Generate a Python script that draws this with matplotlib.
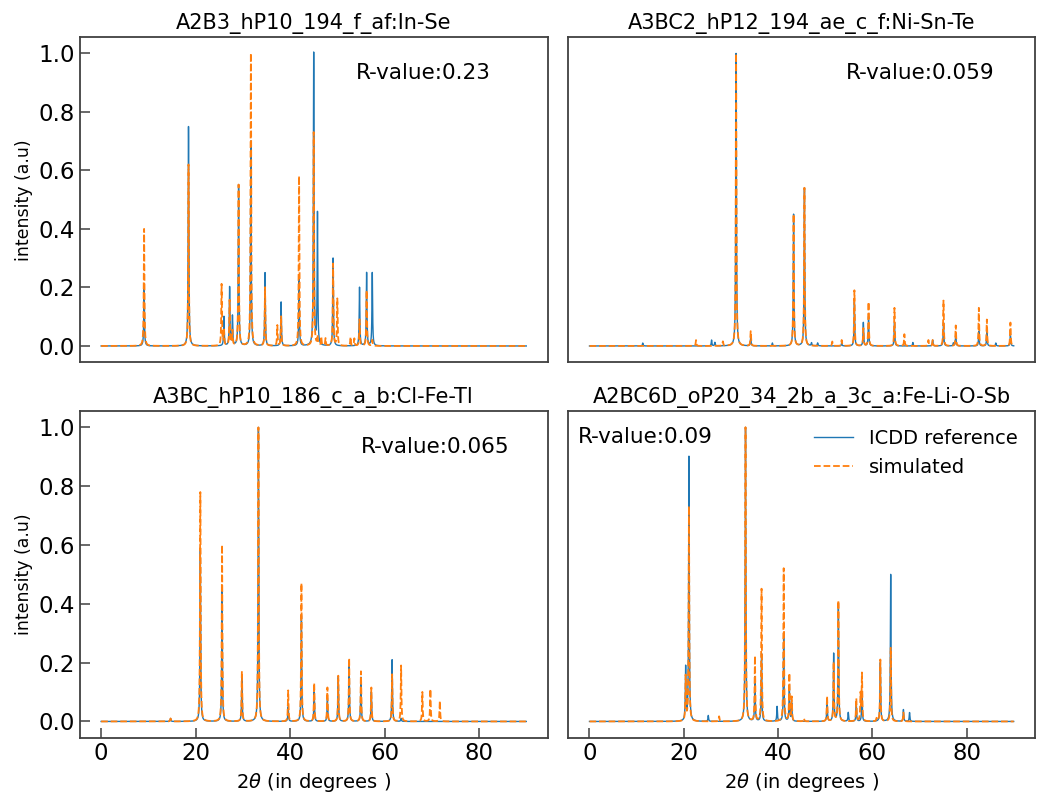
import numpy as np
import matplotlib
matplotlib.use("Agg")
import matplotlib.pyplot as plt

# peak lists read from the patterns: position (2theta), ICDD height, simulated height
titles = [
    "A2B3_hP10_194_f_af:In-Se",
    "A3BC2_hP12_194_ae_c_f:Ni-Sn-Te",
    "A3BC_hP10_186_c_a_b:Cl-Fe-Tl",
    "A2BC6D_oP20_34_2b_a_3c_a:Fe-Li-O-Sb",
]
r_values = ["0.23", "0.059", "0.065", "0.09"]

pos_inse = [9.1, 18.5, 25.5, 26.0, 27.2, 27.8, 29.1, 31.7, 34.7, 37.3, 38.1, 41.9,
            45.0, 45.8, 46.6, 47.5, 49.1, 50.0, 52.8, 53.6, 54.7, 56.2, 57.4]
icdd_inse = [0.20, 0.75, 0.0, 0.10, 0.20, 0.10, 0.55, 0.70, 0.25, 0.0, 0.15, 0.24,
             1.00, 0.45, 0.0, 0.0, 0.30, 0.0, 0.0, 0.0, 0.20, 0.25, 0.25]
sim_inse = [0.40, 0.62, 0.21, 0.05, 0.155, 0.05, 0.55, 1.00, 0.20, 0.07, 0.10, 0.58,
            0.73, 0.03, 0.03, 0.025, 0.28, 0.16, 0.03, 0.025, 0.09, 0.19, 0.02]

pos_nisnte = [11.3, 22.6, 25.9, 26.6, 28.3, 31.1, 34.2, 38.8, 43.3, 45.6, 47.1, 48.4,
              51.5, 53.5, 56.2, 58.1, 59.2, 64.7, 66.8, 68.6, 71.9, 72.8, 75.1, 77.2,
              77.7, 82.6, 84.3, 86.2, 89.3]
icdd_nisnte = [0.01, 0.0, 0.02, 0.012, 0.0, 1.00, 0.03, 0.01, 0.45, 0.54, 0.01, 0.01,
               0.0, 0.01, 0.15, 0.08, 0.10, 0.08, 0.0, 0.012, 0.0, 0.02, 0.08, 0.01,
               0.04, 0.05, 0.05, 0.01, 0.04]
sim_nisnte = [0.0, 0.02, 0.0, 0.0, 0.015, 1.00, 0.05, 0.0, 0.45, 0.54, 0.0, 0.0,
              0.015, 0.02, 0.19, 0.06, 0.15, 0.13, 0.04, 0.0, 0.02, 0.02, 0.155, 0.0,
              0.07, 0.13, 0.09, 0.0, 0.08]

pos_clfetl = [14.7, 21.0, 25.6, 29.8, 33.3, 39.6, 42.4, 45.1, 47.9, 50.2, 52.5, 55.0,
              57.2, 61.6, 63.5, 68.0, 69.7, 71.7]
icdd_clfetl = [0.01, 0.58, 0.45, 0.15, 1.00, 0.05, 0.36, 0.10, 0.08, 0.15, 0.20, 0.15,
               0.10, 0.21, 0.01, 0.0, 0.0, 0.0]
sim_clfetl = [0.01, 0.78, 0.60, 0.17, 1.00, 0.105, 0.47, 0.13, 0.115, 0.155, 0.215, 0.17,
              0.115, 0.16, 0.19, 0.10, 0.11, 0.07]

pos_felios = [20.4, 21.1, 25.2, 27.5, 33.1, 35.1, 36.5, 39.8, 41.2, 42.4, 42.9, 45.5,
              50.4, 51.8, 52.8, 54.9, 56.6, 57.5, 57.8, 60.9, 61.7, 63.9, 66.6, 67.9]
icdd_felios = [0.18, 0.90, 0.02, 0.0, 1.00, 0.15, 0.23, 0.05, 0.30, 0.12, 0.06, 0.0,
               0.07, 0.23, 0.40, 0.03, 0.06, 0.0, 0.10, 0.0, 0.20, 0.50, 0.04, 0.03]
sim_felios = [0.15, 0.73, 0.0, 0.017, 1.00, 0.22, 0.45, 0.0, 0.52, 0.16, 0.08, 0.01,
              0.085, 0.20, 0.41, 0.0, 0.077, 0.09, 0.16, 0.01, 0.21, 0.25, 0.03, 0.0]

peaks = [
    (pos_inse, icdd_inse, sim_inse),
    (pos_nisnte, icdd_nisnte, sim_nisnte),
    (pos_clfetl, icdd_clfetl, sim_clfetl),
    (pos_felios, icdd_felios, sim_felios),
]

two_theta = np.linspace(0, 90, 9001)


# Lorentzian broadening of a stick pattern
def broaden(positions, heights, hwhm=0.08):
    y = np.zeros_like(two_theta)
    for p, h in zip(positions, heights):
        y += h / (1 + ((two_theta - p) / hwhm) ** 2)
    return y


fig = plt.figure(figsize=(10.37, 7.94), dpi=100)
boxes = [
    [0.077, 0.544, 0.451, 0.409],
    [0.548, 0.544, 0.450, 0.409],
    [0.077, 0.071, 0.451, 0.411],
    [0.548, 0.071, 0.450, 0.411],
]
text_pos = [(0.59, 0.89), (0.595, 0.89), (0.60, 0.89), (0.02, 0.92)]

for i in range(4):
    ax = fig.add_axes(boxes[i])
    pos, icdd, sim = peaks[i]
    ax.plot(two_theta, broaden(pos, icdd), color="tab:blue", lw=1.0, label="ICDD reference")
    ax.plot(two_theta, broaden(pos, sim), color="tab:orange", lw=1.3, ls="--", label="simulated")
    ax.set_title(titles[i], fontsize=15)
    ax.set_ylim(-0.055, 1.055)
    ax.set_xticks([0, 20, 40, 60, 80])
    ax.set_yticks([0.0, 0.2, 0.4, 0.6, 0.8, 1.0])
    ax.tick_params(direction="in", length=7, width=1.1, labelsize=16.5, color="0.25")
    for s in ax.spines.values():
        s.set_color("0.25")
        s.set_linewidth(1.3)
    ax.text(text_pos[i][0], text_pos[i][1], "R-value:" + r_values[i],
            transform=ax.transAxes, fontsize=15.5, va="center")
    if i < 2:
        ax.tick_params(bottom=False, labelbottom=False)
    else:
        ax.set_xlabel(r"2$\theta$ (in degrees )", fontsize=14)
    if i % 2 == 1:
        ax.tick_params(left=False, labelleft=False)
    else:
        ax.set_ylabel("intensity (a.u)", fontsize=12.5)
    if i == 3:
        ax.legend(loc="upper right", frameon=False, fontsize=14)

fig.savefig("out.png", dpi=100)
